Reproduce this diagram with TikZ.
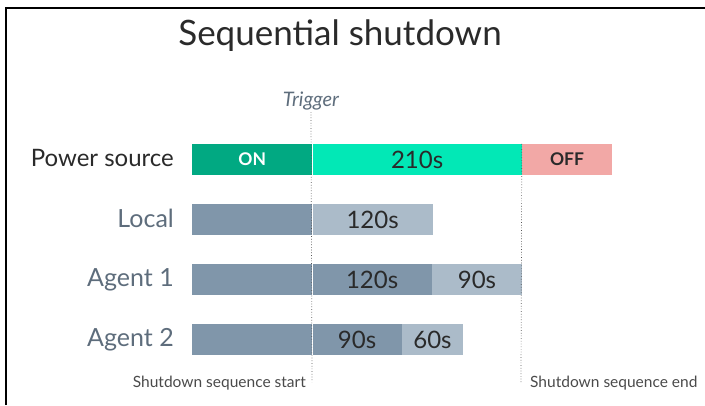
\documentclass[tikz,border=0pt]{standalone}
\usepackage{fontspec}
\setmainfont{Lato}
\usetikzlibrary{positioning}
\definecolor{onc}{HTML}{01A982}
\definecolor{runc}{HTML}{02E8B6}
\definecolor{offc}{HTML}{F2A8A6}
\definecolor{slatec}{HTML}{8096AA}
\definecolor{palec}{HTML}{ABBBC9}
\definecolor{labelc}{HTML}{5E6D7C}
\definecolor{guidec}{HTML}{555555}
\definecolor{inkc}{HTML}{2A2A2A}

\begin{document}
\begin{tikzpicture}[x=1pt, y=-1pt,
  bar/.style={inner sep=0pt, minimum height=31pt, text=inkc, font=\fontsize{24}{24}\selectfont},
  rowlabel/.style={anchor=base east, inner sep=0pt, text=labelc, font=\fontsize{25}{25}\selectfont},
  note/.style={inner sep=0pt, text=inkc!85, font=\fontsize{15.5}{15.5}\selectfont},
  guide/.style={guidec, dotted, line width=0.7pt}]
  \useasboundingbox (0,0) rectangle (705,405);
  % frame (top and left only)
  \draw[line width=2pt] (6,405) -- (6,7.5) -- (705,7.5);

  \node[inner sep=0pt, text=inkc, font=\fontsize{35}{35}\selectfont] (title) at (340,36) {Sequential shutdown};
  \node[inner sep=0pt, anchor=base, text=labelc, font=\fontsize{20}{20}\selectfont\itshape] (trigger) at (311,106) {Trigger};

  % row labels
  \node[rowlabel, text=inkc, font=\fontsize{24}{24}\selectfont] (lpower) at (174,166) {Power source};
  \foreach \n/\y/\t in {llocal/227/Local, lagent1/286.5/Agent 1, lagent2/346.5/Agent 2}
    \node[rowlabel] (\n) at (174,\y) {\t};

  % power source
  \node[bar, anchor=west, fill=onc, minimum width=120pt, text=white, font=\fontsize{17.5}{17.5}\selectfont\bfseries] (on) at (192,159.5) {ON};
  \node[bar, fill=runc, minimum width=209pt, right=0pt of on] (run) {210s};
  \node[bar, fill=offc, minimum width=90pt, text=inkc, font=\fontsize{17.5}{17.5}\selectfont\bfseries, right=0pt of run] (off) {OFF};

  % local
  \node[bar, anchor=west, fill=slatec, minimum width=120pt] (locwait) at (192,219.5) {};
  \node[bar, fill=palec, minimum width=120pt, right=0pt of locwait] (locdown) {120s};

  % agent 1
  \node[bar, anchor=west, fill=slatec, minimum width=120pt] (aonewait) at (192,279.5) {};
  \node[bar, fill=slatec, minimum width=119pt, right=0pt of aonewait] (aoneoff) {120s};
  \node[bar, fill=palec, minimum width=90pt, right=0pt of aoneoff] (aonedown) {90s};

  % agent 2
  \node[bar, anchor=west, fill=slatec, minimum width=120pt] (atwowait) at (192,339.5) {};
  \node[bar, fill=slatec, minimum width=89pt, right=0pt of atwowait] (atwooff) {90s};
  \node[bar, fill=palec, minimum width=61pt, right=0pt of atwooff] (atwodown) {60s};

  % sequence marks
  \coordinate (startfoot) at (312,382);
  \coordinate (endfoot) at (521,382);
  \draw[guide] ([yshift=-6pt]trigger.base) -- (startfoot);
  \draw[guide] (run.north east) -- (endfoot);
  \node[note, anchor=base east] (seqstart) at (306,387) {Shutdown sequence start};
  \node[note, anchor=base west] (seqend) at (530,387) {Shutdown sequence end};
\end{tikzpicture}
\end{document}
